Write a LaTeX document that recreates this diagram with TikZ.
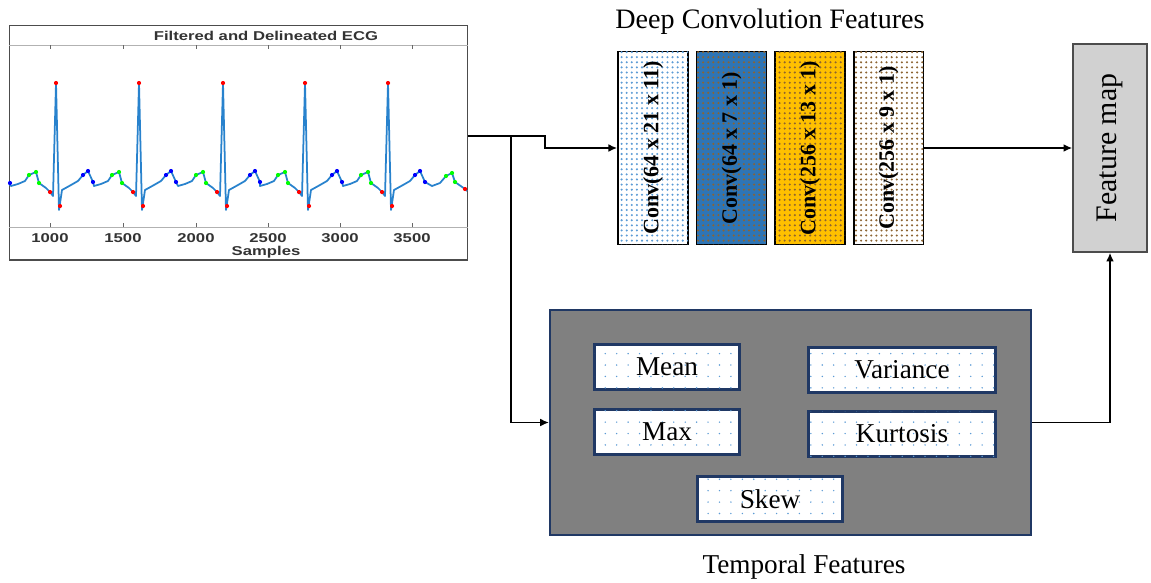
\documentclass[tikz,border=0pt]{standalone}
\usepackage{fontspec}
\setmainfont{Liberation Serif}
\newfontfamily\plotfont{Liberation Sans}
\usetikzlibrary{arrows.meta,patterns,positioning}
\definecolor{ecgblue}{RGB}{40,130,205}
\definecolor{convblue}{RGB}{46,117,182}
\definecolor{convgold}{RGB}{255,192,0}
\definecolor{navy}{RGB}{32,56,100}
\definecolor{dotblue}{RGB}{91,155,213}
\definecolor{dotbrown}{RGB}{140,100,50}
\pgfdeclarepatternformonly{sparsedots}{\pgfqpoint{-1pt}{-1pt}}{\pgfqpoint{1pt}{1pt}}{\pgfqpoint{6.5pt}{6.5pt}}{\pgfpathcircle{\pgfqpoint{0pt}{0pt}}{.45pt}\pgfusepath{fill}}
\pgfdeclarepatternformonly{convdots}{\pgfqpoint{-1pt}{-1pt}}{\pgfqpoint{1pt}{1pt}}{\pgfqpoint{2.9pt}{2.9pt}}{\pgfpathcircle{\pgfqpoint{0pt}{0pt}}{.65pt}\pgfusepath{fill}}
\tikzset{
convbox/.style 2 args={
	draw, line width=0.9pt, fill=#1, postaction={pattern=convdots, pattern color=#2},
	minimum width=1.4cm, minimum height=3.86cm, inner sep=0pt,
	font=\fontsize{12.5}{14}\selectfont\bfseries},
statbox/.style={
	draw=navy, line width=1.2pt, fill=white, postaction={pattern=sparsedots, pattern color=dotblue},
	minimum width=2.9cm, minimum height=0.9cm, font=\fontsize{15.5}{17}\selectfont},
wide/.style={minimum width=3.74cm},
plotlbl/.style={font=\plotfont\bfseries\fontsize{7.3}{8}\selectfont, xscale=1.3, inner sep=0pt, text=black!80},
conn/.style={line width=1pt, -{Latex[length=5pt,width=4.5pt]}}
}

\begin{document}
\begin{tikzpicture}[x=0.02cm, y=-0.02cm]
	\useasboundingbox (0,0) rectangle (1151,582);
	% ecg plot
	\node[draw=black!70, line width=0.6pt, minimum width=9.18cm, minimum height=4.7cm, inner sep=0pt] (ecg) at (238.5,142.5) {};
	\draw[black!30, line width=0.5pt] (9,45) -- (468,45) (9,227) -- (468,227);
	\foreach \x/\v in {50/1000,123/1500,196/2000,268/2500,340/3000,412/3500} {
		\draw[black!60, line width=0.4pt] (\x,45) -- ++(0,4) (\x,227) -- ++(0,-4);
		\node[plotlbl] (t\v) at (\x,238) {\v};
	}
	\node[plotlbl] (ecgtitle) at (266,36) {Filtered and Delineated ECG};
	\node[plotlbl] (samples) at (266,252) {Samples};
	\draw[ecgblue, line width=1pt, line join=round] (9,184)
		\foreach \r in {56,139,223,305,388} { -- (\r-45,186) -- (\r-38,184) -- (\r-31,181) -- (\r-27,175) -- (\r-20,172) -- (\r-17,183) -- (\r-10,188) -- (\r-6,192) -- (\r-3,196) -- (\r,83) -- (\r+3,210) -- (\r+6,190) -- (\r+15,185) -- (\r+22,181) -- (\r+27,175) -- (\r+32,171) -- (\r+37,182) }
		-- (432,186) -- (440,183) -- (446,176) -- (452,173) -- (455,182) -- (465,189) -- (467,191);
	\foreach \r in {56,139,223,305,388} {
		\fill[red] (\r,83) circle (2.1) (\r+4,206) circle (2.1) (\r-6,192) circle (2.1);
		\fill[green] (\r-27,175) circle (2.1) (\r-20,172) circle (2.1) (\r-17,183) circle (2.1);
		\fill[blue] (\r+27,175) circle (2.1) (\r+32,171) circle (2.1) (\r+37,182) circle (2.1);
	}
	\fill[blue] (10,183) circle (2.1);
	\fill[green] (446,176) circle (2.1) (452,173) circle (2.1) (455,182) circle (2.1);
	\fill[red] (465,189) circle (2.1);

	% deep branch
	\node[font=\fontsize{16}{18}\selectfont] (deephead) at (770,22) {Deep Convolution Features};
	\node[convbox={white}{dotblue}] (conva) at (653,148) {\rotatebox{90}{Conv(64 x 21 x 11)}};
	\node[convbox={convblue}{dotbrown}, right=0.14cm of conva] (convb) {\rotatebox{90}{Conv(64 x 7 x 1)}};
	\node[convbox={convgold}{dotbrown}, right=0.14cm of convb] (convc) {\rotatebox{90}{Conv(256 x 13 x 1)}};
	\node[convbox={white}{dotbrown}, right=0.14cm of convc] (convd) {\rotatebox{90}{Conv(256 x 9 x 1)}};
	\node[draw=black!70, fill=black!18, line width=0.8pt, minimum width=1.48cm, minimum height=4.16cm,
		font=\fontsize{17}{19}\selectfont] (fmap) at (1110,148) {\rotatebox{90}{Feature map}};

	% temporal branch
	\node[draw=navy, fill=black!50, line width=1.2pt, minimum width=9.62cm, minimum height=4.5cm] (temporal) at (790.5,422.5) {};
	\node[statbox] (mean) at (667,367) {Mean};
	\node[statbox, wide] (variance) at (902,370) {Variance};
	\node[statbox] (max) at (667,432) {Max};
	\node[statbox, wide] (kurtosis) at (902,434) {Kurtosis};
	\node[statbox] (skew) at (770,499) {Skew};
	\node[font=\fontsize{15.5}{17}\selectfont] (temphead) at (804,567) {Temporal Features};

	\coordinate (ecgout) at (468,136);
	\coordinate (split) at (511,136);
	\draw[conn] (ecgout) -- ++(77,0) |- (conva.west);
	\draw[conn] (split) |- (temporal.west);
	\draw[conn] (convd.east) -- (fmap.west);
	\draw[conn] (temporal.east) -| (fmap.south);
\end{tikzpicture}
\end{document}
